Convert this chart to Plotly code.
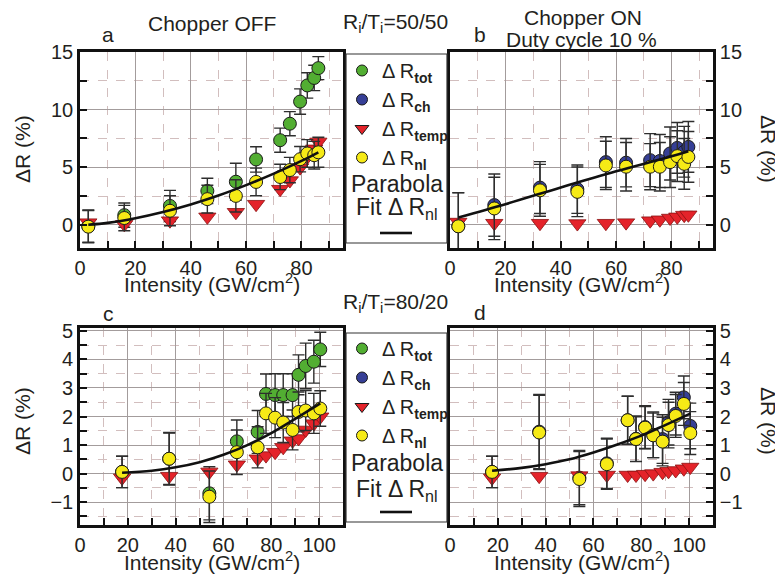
import plotly.graph_objects as go

# the page puts the figure 8 px in from the top-left corner of the window
OFF = 8
W, H = 783 - OFF, 579 - OFF

# ---------------- data ----------------
# Row 1 (Ri/Ti = 50/50)
x_top = [3, 16, 32.5, 46, 56.3, 63.6, 72.3, 75.8, 79.5, 82.1, 84.6, 86.1]
a_tot = [-0.1, 0.85, 1.65, 2.95, 3.75, 5.68, 7.35, 8.78, 10.7, 12.1, 12.75, 13.6]
a_tot_err = [1.4, 1.05, 1.35, 1.1, 1.6, 1.1, 1.05, 1.05, 1.1, 1.1, 1.1, 1.0]
a_temp = [0.2, 0.05, 0.37, 0.7, 1.1, 1.8, 3.1, 3.85, 4.97, 5.9, 6.6, 7.2]
a_nl = [-0.15, 0.6, 1.23, 2.24, 2.52, 3.73, 4.16, 4.76, 5.7, 6.2, 6.05, 6.3]
a_nl_err = [1.4, 1.1, 1.3, 1.2, 1.4, 1.2, 1.1, 1.1, 1.1, 1.2, 1.2, 1.3]
a_fit_x = [3, 10, 20, 30, 40, 50, 60, 70, 80, 86.1]
a_fit_y = [0.02, 0.18, 0.58, 1.12, 1.78, 2.55, 3.45, 4.45, 5.55, 6.3]

b_ch = [-0.1, 1.72, 3.24, 3.1, 5.45, 5.4, 5.62, 5.55, 6.2, 6.68, 6.35, 6.77]
b_ch_err = [2.9, 2.7, 2.25, 2.1, 2.2, 2.1, 2.3, 2.3, 2.3, 2.2, 2.2, 2.2]
b_temp = [0.25, 0.15, 0.15, 0.12, 0.15, 0.2, 0.37, 0.45, 0.6, 0.7, 0.85, 0.88]
b_nl = [-0.12, 1.43, 3.0, 2.87, 5.16, 5.05, 5.05, 5.05, 5.45, 5.97, 5.3, 5.9]
b_nl_err = [2.9, 2.7, 2.25, 2.15, 2.1, 2.1, 2.0, 2.1, 2.2, 2.2, 2.2, 2.2]
b_fit_x = [3, 20, 40, 60, 80, 86.1]
b_fit_y = [0.65, 1.8, 3.25, 4.65, 5.95, 6.4]

# Row 2 (Ri/Ti = 80/20)
x_bot = [17.6, 37.3, 54.1, 65.6, 74.3, 77.8, 81.6, 85, 88.9, 91.4, 94.4, 97.8, 100.5]
c_tot = [0.06, 0.52, -0.69, 1.13, 1.46, 2.79, 2.75, 2.75, 2.75, 3.46, 3.77, 3.92, 4.35]
c_tot_err = [0.55, 0.9, 0.93, 0.75, 0.75, 0.7, 0.75, 0.75, 0.75, 0.7, 0.8, 0.75, 0.6]
c_temp = [-0.15, -0.09, 0.06, 0.31, 0.52, 0.63, 0.75, 0.92, 1.15, 1.23, 1.53, 1.75, 1.99]
c_nl = [0.06, 0.52, -0.81, 0.75, 0.92, 2.11, 1.96, 1.79, 1.53, 2.16, 2.21, 2.11, 2.28]
c_nl_err = [0.55, 0.92, 0.9, 0.78, 0.72, 0.7, 0.7, 0.7, 0.7, 0.7, 0.7, 0.7, 0.62]
c_fit_x = [17.6, 30, 40, 50, 60, 70, 80, 90, 100.5]
c_fit_y = [0.03, 0.1, 0.22, 0.4, 0.66, 1.0, 1.42, 1.92, 2.46]

d_ch = [0.06, 1.47, -0.14, 0.36, 1.87, 1.22, 1.63, 1.36, 1.21, 1.8, 2.1, 2.67, 1.67]
d_ch_err = [0.55, 1.3, 0.95, 0.88, 0.84, 0.8, 0.75, 0.8, 0.85, 0.8, 0.75, 0.75, 0.8]
d_temp = [-0.15, -0.09, -0.07, -0.05, -0.05, -0.05, -0.02, 0.0, 0.05, 0.08, 0.11, 0.17, 0.23]
d_nl = [0.06, 1.44, -0.19, 0.33, 1.87, 1.21, 1.61, 1.34, 1.12, 1.7, 2.02, 2.44, 1.42]
d_nl_err = [0.55, 1.3, 0.96, 0.88, 0.84, 0.78, 0.74, 0.78, 0.85, 0.8, 0.75, 0.75, 0.75]
d_fit_x = [17.6, 30, 40, 50, 60, 70, 80, 90, 100.5]
d_fit_y = [0.1, 0.2, 0.33, 0.5, 0.74, 1.02, 1.33, 1.7, 2.1]

legend_names = ["Δ R<sub><b>tot</b></sub>", "Δ R<sub><b>ch</b></sub>",
                "Δ R<sub><b>temp</b></sub>", "Δ R<sub><b>nl</b></sub>"]

# ---------------- style ----------------
FONT = "Liberation Sans, Arial, sans-serif"
TXT = "#231f20"
GREEN, BLUE, RED, YELLOW = "#52ae32", "#363f96", "#e4232a", "#f6ea16"
ERRC = "#2e2e2e"


def X(p):
    """window pixel (from left) -> paper fraction"""
    return (p - OFF) / W


def Y(p):
    """window pixel (from top) -> paper fraction"""
    return 1 - (p - OFF) / H


fig = go.Figure()


def circles(x, y, err, color, xa, ya):
    fig.add_trace(go.Scatter(
        x=x, y=y, mode="markers", xaxis=xa, yaxis=ya, showlegend=False,
        marker=dict(symbol="circle", size=13, color=color,
                    line=dict(color="#1a1a1a", width=1)),
        error_y=dict(type="data", array=err, visible=True, color=ERRC,
                     thickness=1.4, width=6)))


def triangles(x, y, xa, ya):
    fig.add_trace(go.Scatter(
        x=x, y=y, mode="markers", xaxis=xa, yaxis=ya, showlegend=False,
        marker=dict(symbol="triangle-down", size=15, color=RED,
                    line=dict(color="#8a1010", width=0.8))))


def fit(x, y, xa, ya):
    fig.add_trace(go.Scatter(
        x=x, y=y, mode="lines", xaxis=xa, yaxis=ya, showlegend=False,
        line=dict(color="#111111", width=2.6, shape="spline")))


# panel a
circles(x_top, a_tot, a_tot_err, GREEN, "x", "y")
triangles(x_top, a_temp, "x", "y")
circles(x_top, a_nl, a_nl_err, YELLOW, "x", "y")
fit(a_fit_x, a_fit_y, "x", "y")
# panel b
circles(x_top, b_ch, b_ch_err, BLUE, "x2", "y2")
triangles(x_top, b_temp, "x2", "y2")
circles(x_top, b_nl, b_nl_err, YELLOW, "x2", "y2")
fit(b_fit_x, b_fit_y, "x2", "y2")
# panel c
circles(x_bot, c_tot, c_tot_err, GREEN, "x3", "y3")
triangles(x_bot, c_temp, "x3", "y3")
circles(x_bot, c_nl, c_nl_err, YELLOW, "x3", "y3")
fit(c_fit_x, c_fit_y, "x3", "y3")
# panel d
circles(x_bot, d_ch, d_ch_err, BLUE, "x4", "y4")
triangles(x_bot, d_temp, "x4", "y4")
circles(x_bot, d_nl, d_nl_err, YELLOW, "x4", "y4")
fit(d_fit_x, d_fit_y, "x4", "y4")

# legend entries (legend-only items)
leg_colors = [GREEN, BLUE, RED, YELLOW]
leg_symbols = ["circle", "circle", "triangle-down", "circle"]
for lg in ["legend", "legend2"]:
    for name, col, sym in zip(legend_names, leg_colors, leg_symbols):
        fig.add_trace(go.Scatter(
            x=[None], y=[None], mode="markers", name=name, legend=lg,
            xaxis="x", yaxis="y",
            marker=dict(symbol=sym, size=11 if sym == "circle" else 12,
                        color=col, line=dict(color="#1a1a1a", width=1))))

# ---------------- axes ----------------
xa_dom = [X(80), X(343)]
xb_dom = [X(450), X(713)]
top_dom = [Y(248), Y(52)]
bot_dom = [Y(525), Y(328)]

common = dict(showline=True, linewidth=2.6, linecolor="#111111", mirror=True,
              ticks="inside", ticklen=7, tickwidth=2, tickcolor="#111111",
              showgrid=True, gridcolor="#a39c9c", gridwidth=1.3,
              zeroline=False, automargin=False,
              tickfont=dict(family=FONT, size=20, color=TXT))


def minor(dt):
    return dict(dtick=dt, ticks="inside", ticklen=7, tickwidth=2,
                tickcolor="#111111", showgrid=True, gridcolor="#d2bebe",
                griddash="dash", gridwidth=1)


layout_axes = dict(
    xaxis=dict(domain=xa_dom, anchor="y", range=[0, 95], dtick=20,
               tick0=0, minor=minor(10), **common),
    yaxis=dict(domain=top_dom, anchor="x", range=[-2, 15], dtick=5,
               tick0=0, minor=minor(2.5), **common),
    xaxis2=dict(domain=xb_dom, anchor="y2", range=[0, 95], dtick=20,
                tick0=0, minor=minor(10), **common),
    yaxis2=dict(domain=top_dom, anchor="x2", range=[-2, 15], dtick=5,
                tick0=0, side="right", minor=minor(2.5), **common),
    xaxis3=dict(domain=xa_dom, anchor="y3", range=[0, 110], dtick=20,
                tick0=0, minor=minor(10), **common),
    yaxis3=dict(domain=bot_dom, anchor="x3", range=[-1.8, 5.1], dtick=1,
                tick0=0, minor=minor(0.5), **common),
    xaxis4=dict(domain=xb_dom, anchor="y4", range=[0, 110], dtick=20,
                tick0=0, minor=minor(10), **common),
    yaxis4=dict(domain=bot_dom, anchor="x4", range=[-1.8, 5.1], dtick=1,
                tick0=0, side="right", minor=minor(0.5), **common),
)

# ---------------- annotations ----------------
ann = []


def text(t, px, py, size=21, angle=0):
    ann.append(dict(text=t, x=X(px), y=Y(py), xref="paper", yref="paper",
                    xanchor="center", yanchor="middle", showarrow=False,
                    textangle=angle,
                    font=dict(family=FONT, size=size, color=TXT)))


text("a", 108, 35)
text("Chopper OFF", 212, 23)
text("R<sub>i</sub>/T<sub>i</sub>=50/50", 395, 23)
text("b", 480, 35)
text("Chopper ON", 583, 17)
text("Duty cycle 10 %", 581, 39)
text("c", 108, 313)
text("R<sub>i</sub>/T<sub>i</sub>=80/20", 395, 303)
text("d", 480, 312)
xtitle = "Intensity (GW/cm<sup>2</sup>)"
text(xtitle, 212, 283)
text(xtitle, 582, 283)
text(xtitle, 212, 561)
text(xtitle, 582, 561)
text("ΔR (%)", 22, 149, angle=-90)
text("ΔR (%)", 22, 421, angle=-90)
text("ΔR (%)", 769, 149, angle=90)
text("ΔR (%)", 769, 421, angle=90)
# legend box texts
text("Parabola", 397, 184, size=23)
text("Fit Δ R<sub>nl</sub>", 397, 208, size=23)
text("Parabola", 397, 463, size=23)
text("Fit Δ R<sub>nl</sub>", 397, 490, size=23)

shapes = []
for y0, y1, yl in [(54, 243, 233), (333, 522, 512)]:
    shapes.append(dict(type="rect", xref="paper", yref="paper",
                       x0=X(346), x1=X(447), y0=Y(y1), y1=Y(y0),
                       line=dict(color="#333333", width=1.2)))
    shapes.append(dict(type="line", xref="paper", yref="paper",
                       x0=X(380), x1=X(412), y0=Y(yl), y1=Y(yl),
                       line=dict(color="#111111", width=2.6)))

leg_common = dict(xanchor="left", yanchor="top", bgcolor="rgba(0,0,0,0)",
                  borderwidth=0, itemwidth=30, tracegroupgap=0,
                  font=dict(family=FONT, size=20, color=TXT))

fig.update_layout(
    template="none",
    width=W, height=H, autosize=False,
    margin=dict(l=0, r=0, t=0, b=0, autoexpand=False),
    paper_bgcolor="white", plot_bgcolor="white",
    font=dict(family=FONT, color=TXT),
    annotations=ann, shapes=shapes,
    legend=dict(x=X(342), y=Y(51), **leg_common),
    legend2=dict(x=X(342), y=Y(329), **leg_common),
    **layout_axes,
)

fig.write_html("out.html")
